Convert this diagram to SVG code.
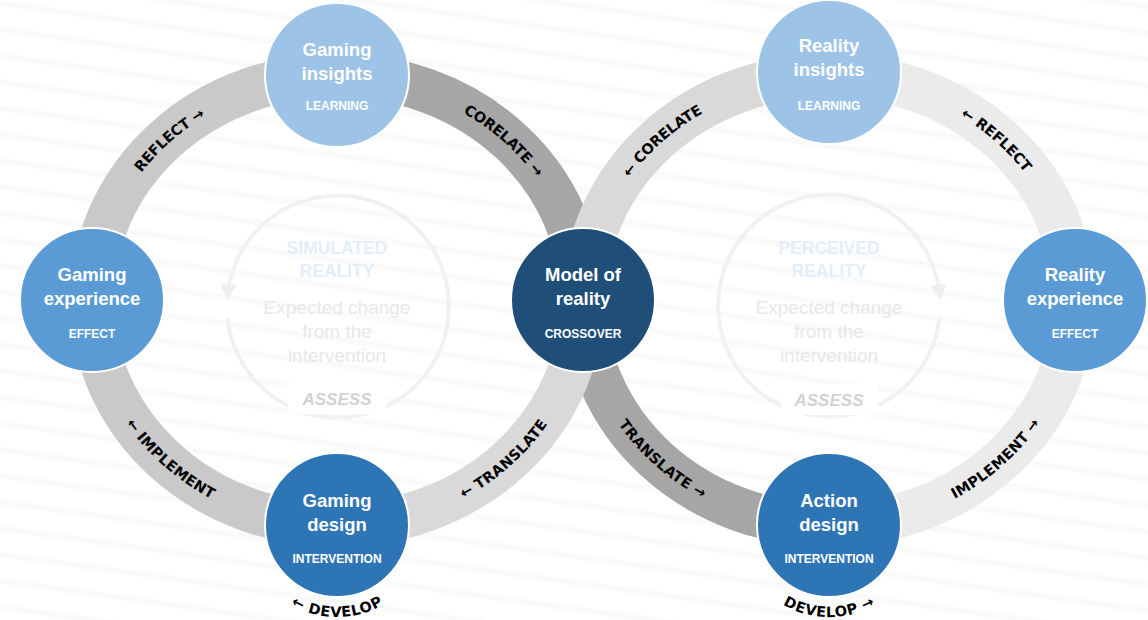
<svg xmlns="http://www.w3.org/2000/svg" xmlns:xlink="http://www.w3.org/1999/xlink" width="1148" height="620" viewBox="0 0 1148 620">
<defs>
<style>
.t{font-family:"Liberation Sans",Arial,sans-serif;font-size:18.5px;font-weight:bold;fill:#fff;text-anchor:middle}
.s{font-family:"Liberation Sans",Arial,sans-serif;font-size:12px;font-weight:bold;fill:#fff;text-anchor:middle}
.lbl{font-family:"DejaVu Sans",sans-serif;font-size:14.5px;font-weight:bold;fill:#000}
.band{fill:none;stroke-width:44}
.node{stroke:#fff;stroke-width:2}
.ft{font-family:"Liberation Sans",Arial,sans-serif;font-size:17.5px;font-weight:bold;fill:#e4eef8;text-anchor:middle}
.fe{font-family:"Liberation Sans",Arial,sans-serif;font-size:19px;fill:#e8e8e8;text-anchor:middle}
.fa{font-family:"Liberation Sans",Arial,sans-serif;font-size:17px;font-weight:bold;font-style:italic;fill:#d2d2d2;text-anchor:middle}
.fc{fill:none;stroke:#f1f1f1;stroke-width:4}
</style>
<pattern id="stripes" width="40" height="26" patternUnits="userSpaceOnUse" patternTransform="rotate(8)">
<rect x="0" y="0" width="40" height="6" fill="#fafafa"/>
</pattern>
<marker id="fh" viewBox="0 0 10 10" refX="6" refY="5" markerWidth="4" markerHeight="4" orient="auto" markerUnits="strokeWidth">
<path d="M0,0 L10,5 L0,10 z" fill="#efefef"/>
</marker>
<path id="L1" d="M92,300 A245,225 0 0 1 337,75"/>
<path id="L2" d="M337,75 A245,225 0 0 1 582,300"/>
<path id="L3" d="M337,525 A245,225 0 0 0 582,300"/>
<path id="L4" d="M92,300 A245,225 0 0 0 337,525"/>
<path id="R1" d="M584,300 A245,225 0 0 1 829,75"/>
<path id="R2" d="M829,75 A245,225 0 0 1 1074,300"/>
<path id="R3" d="M829,525 A245,225 0 0 0 1074,300"/>
<path id="R4" d="M584,300 A245,225 0 0 0 829,525"/>
<path id="DL" d="M250,525 A87,87 0 0 0 424,525"/>
<path id="DR" d="M742,525 A87,87 0 0 0 916,525"/>
</defs>

<rect x="0" y="0" width="1148" height="620" fill="#ffffff"/>
<rect x="0" y="0" width="1148" height="620" fill="url(#stripes)"/>

<g id="left-center">
<path class="fc" d="M227.5,318 A111,111 0 1 0 227.6,294" marker-end="url(#fh)"/>
<text class="ft" x="337" y="254">SIMULATED</text>
<text class="ft" x="337" y="277">REALITY</text>
<text class="fe" x="337" y="314">Expected change</text>
<text class="fe" x="337" y="338">from the</text>
<text class="fe" x="337" y="362">intervention</text>
<rect x="288" y="383" width="98" height="31" fill="#ffffff"/>
<text class="fa" x="337" y="405">ASSESS</text>
</g>

<g id="right-center">
<path class="fc" d="M939.5,318 A111,111 0 1 1 939.6,294" marker-end="url(#fh)"/>
<text class="ft" x="829" y="254">PERCEIVED</text>
<text class="ft" x="829" y="277">REALITY</text>
<text class="fe" x="829" y="314">Expected change</text>
<text class="fe" x="829" y="338">from the</text>
<text class="fe" x="829" y="362">intervention</text>
<rect x="781" y="384" width="97" height="31" fill="#ffffff"/>
<text class="fa" x="829" y="406">ASSESS</text>
</g>

<g id="connectors">
<use href="#L2" xlink:href="#L2" class="band" stroke="#a6a6a6"/>
<use href="#R4" xlink:href="#R4" class="band" stroke="#a6a6a6"/>
<use href="#L1" xlink:href="#L1" class="band" stroke="#c9c9c9"/>
<use href="#L4" xlink:href="#L4" class="band" stroke="#c9c9c9"/>
<use href="#L3" xlink:href="#L3" class="band" stroke="#d9d9d9"/>
<use href="#R1" xlink:href="#R1" class="band" stroke="#d9d9d9"/>
<use href="#R2" xlink:href="#R2" class="band" stroke="#ebebeb"/>
<use href="#R3" xlink:href="#R3" class="band" stroke="#ebebeb"/>

<text class="lbl" dy="0.35em"><textPath href="#L1" xlink:href="#L1" startOffset="50%" text-anchor="middle">REFLECT →</textPath></text>
<text class="lbl" dy="0.35em"><textPath href="#L2" xlink:href="#L2" startOffset="50%" text-anchor="middle">CORELATE →</textPath></text>
<text class="lbl" dy="0.35em"><textPath href="#L3" xlink:href="#L3" startOffset="50%" text-anchor="middle">← TRANSLATE</textPath></text>
<text class="lbl" dy="0.35em"><textPath href="#L4" xlink:href="#L4" startOffset="50%" text-anchor="middle">← IMPLEMENT</textPath></text>
<text class="lbl" dy="0.35em"><textPath href="#R1" xlink:href="#R1" startOffset="50%" text-anchor="middle">← CORELATE</textPath></text>
<text class="lbl" dy="0.35em"><textPath href="#R2" xlink:href="#R2" startOffset="50%" text-anchor="middle">← REFLECT</textPath></text>
<text class="lbl" dy="0.35em"><textPath href="#R3" xlink:href="#R3" startOffset="50%" text-anchor="middle">IMPLEMENT →</textPath></text>
<text class="lbl" dy="0.35em"><textPath href="#R4" xlink:href="#R4" startOffset="50%" text-anchor="middle">TRANSLATE →</textPath></text>
<text class="lbl" dy="0.35em"><textPath href="#DL" xlink:href="#DL" startOffset="50%" text-anchor="middle">← DEVELOP</textPath></text>
<text class="lbl" dy="0.35em"><textPath href="#DR" xlink:href="#DR" startOffset="50%" text-anchor="middle">DEVELOP →</textPath></text>
</g>

<g id="gaming-insights">
<circle class="node" cx="337" cy="75" r="72" fill="#9dc3e6"/>
<text class="t" x="337" y="56">Gaming</text>
<text class="t" x="337" y="80">insights</text>
<text class="s" x="337" y="110">LEARNING</text>
</g>
<g id="gaming-experience">
<circle class="node" cx="92" cy="300" r="72" fill="#5b9bd5"/>
<text class="t" x="92" y="281">Gaming</text>
<text class="t" x="92" y="305">experience</text>
<text class="s" x="92" y="338">EFFECT</text>
</g>
<g id="gaming-design">
<circle class="node" cx="337" cy="525" r="72" fill="#2e75b6"/>
<text class="t" x="337" y="507">Gaming</text>
<text class="t" x="337" y="531">design</text>
<text class="s" x="337" y="563">INTERVENTION</text>
</g>
<g id="model-of-reality">
<circle class="node" cx="583" cy="300" r="72" fill="#1f4e79"/>
<text class="t" x="583" y="281">Model of</text>
<text class="t" x="583" y="305">reality</text>
<text class="s" x="583" y="338">CROSSOVER</text>
</g>
<g id="reality-insights">
<circle class="node" cx="829" cy="72" r="72" fill="#9dc3e6"/>
<text class="t" x="829" y="52">Reality</text>
<text class="t" x="829" y="76">insights</text>
<text class="s" x="829" y="110">LEARNING</text>
</g>
<g id="reality-experience">
<circle class="node" cx="1075" cy="300" r="72" fill="#5b9bd5"/>
<text class="t" x="1075" y="281">Reality</text>
<text class="t" x="1075" y="305">experience</text>
<text class="s" x="1075" y="338">EFFECT</text>
</g>
<g id="action-design">
<circle class="node" cx="829" cy="525" r="72" fill="#2e75b6"/>
<text class="t" x="829" y="507">Action</text>
<text class="t" x="829" y="531">design</text>
<text class="s" x="829" y="563">INTERVENTION</text>
</g>
</svg>
